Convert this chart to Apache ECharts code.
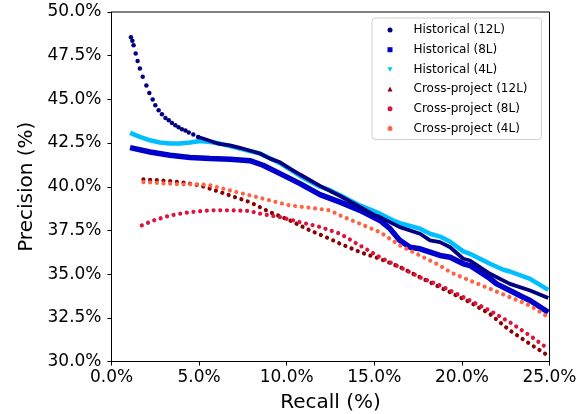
<!DOCTYPE html>
<html><head><meta charset="utf-8">
<script src="https://cdn.jsdelivr.net/npm/echarts@6/dist/echarts.min.js"></script>
<style>html,body{margin:0;padding:0;background:#fff}#c{width:585px;height:414px}</style>
</head><body><div id="c"></div>
<script>
// Historical (12L) - sparse early points
const h12EarlyRecall = [1.11,1.19,1.26,1.38,1.49,1.62,1.78,1.99,2.16,2.35,2.50,2.69,2.88,3.08,3.27,3.45,3.64,3.83,4.02,4.22,4.41,4.67,4.94];
const h12EarlyPrec   = [48.55,48.35,48.10,47.63,47.20,46.77,46.29,45.80,45.37,44.99,44.67,44.38,44.15,43.94,43.81,43.65,43.52,43.41,43.29,43.22,43.10,42.99,42.85];
// Historical (12L) - dense part
const h12Recall = [4.94,5.22,6.15,6.76,7.33,8.47,9.05,9.62,10.19,10.76,11.90,13.05,14.18,15.04,15.32,16.46,17.61,18.18,18.75,19.33,20.08,20.46,21.60,22.74,23.89,24.93];
const h12Prec   = [42.85,42.76,42.45,42.37,42.23,41.90,41.61,41.40,41.04,40.70,40.05,39.47,38.84,38.36,38.26,37.69,37.31,36.93,36.83,36.54,35.88,35.78,35.02,34.44,34.06,33.64];
// Historical (8L)
const h8Recall = [1.06,2.20,3.34,4.48,5.63,6.77,7.90,8.65,9.62,10.76,11.90,13.05,14.18,15.32,15.90,16.46,17.04,17.61,18.18,18.75,19.33,20.08,20.46,21.60,21.98,22.74,23.50,23.89,24.93];
const h8Prec   = [42.24,41.99,41.80,41.68,41.61,41.57,41.49,41.23,40.75,40.18,39.55,39.12,38.65,38.07,37.60,36.93,36.54,36.45,36.26,36.07,35.97,35.59,35.49,34.75,34.44,34.06,33.68,33.49,32.82];
// Historical (4L)
const h4Recall = [1.06,1.62,2.20,2.76,3.34,3.91,4.48,5.05,5.63,6.19,7.33,8.47,9.62,10.76,11.90,12.47,13.05,14.18,15.32,16.09,16.46,17.61,18.18,18.75,19.33,20.08,20.46,21.60,22.37,22.74,23.89,24.93];
const h4Prec   = [43.08,42.85,42.66,42.53,42.47,42.47,42.53,42.62,42.56,42.47,42.18,41.90,41.35,40.62,40.00,39.80,39.51,38.93,38.46,38.07,37.92,37.60,37.31,37.15,36.85,36.30,36.16,35.59,35.25,35.15,34.73,34.10];
// Cross-project (12L)
const c12Recall = [1.82,2.76,3.91,5.05,5.63,6.77,7.90,9.04,10.19,11.33,12.47,13.05,14.18,15.32,16.46,17.61,18.75,19.33,20.46,21.60,22.74,23.89,24.93];
const c12Prec   = [40.42,40.37,40.27,40.08,39.89,39.50,39.12,38.55,38.07,37.50,37.02,36.74,36.26,35.88,35.40,34.82,34.25,33.96,33.39,32.72,31.77,31.00,30.33];
// Cross-project (8L)
const c8Recall = [1.73,2.39,3.34,4.48,5.63,6.77,7.90,8.47,9.62,10.76,11.90,13.05,14.18,15.32,16.46,17.61,18.75,19.33,20.46,21.60,22.74,23.89,24.93];
const c8Prec   = [37.79,38.07,38.36,38.55,38.65,38.65,38.61,38.46,38.26,37.98,37.70,37.31,36.64,35.97,35.40,34.82,34.35,34.06,33.49,32.91,32.24,31.48,30.72];
// Cross-project (4L)
const c4Recall = [1.82,2.76,3.91,5.05,5.63,6.77,7.90,9.04,10.19,11.33,12.47,13.05,14.18,15.32,16.46,17.61,18.75,19.33,20.46,21.60,22.74,23.89,24.93];
const c4Prec   = [40.27,40.21,40.14,40.14,40.08,39.79,39.51,39.22,38.93,38.80,38.65,38.36,37.88,37.40,36.64,36.07,35.49,35.11,34.63,34.16,33.68,33.20,32.53];

const seriesNames = ['Historical (12L)','Historical (8L)','Historical (4L)','Cross-project (12L)','Cross-project (8L)','Cross-project (4L)'];
const colors = ['#000080','#0000CD','#00BFFF','#8B0000','#DC143C','#FF6347'];
const icons = ['circle','rect','path://M0,0L10,0L5,9Z','triangle','circle','circle'];

function pairs(xs, ys){ return xs.map((x,i)=>[x, ys[i]]); }

const chart = echarts.init(document.getElementById('c'), null, {renderer:'canvas'});
const FONT = 'DejaVu Sans';
const dotted = (c) => ({color:c, width:4.2, type:[0.01,6.7], cap:'round'});

chart.setOption({
  animation:false,
  backgroundColor:'#fff',
  grid:{left:111.5, right:35.5, top:12, bottom:52.5, containLabel:false, outerBoundsMode:'none',
        show:true, borderColor:'#000', borderWidth:1, backgroundColor:'transparent'},
  xAxis:{
    type:'value', min:0, max:25, interval:5,
    name:'Recall (%)', nameLocation:'middle', nameGap:31,
    nameTextStyle:{fontFamily:FONT, fontSize:20, color:'#000'},
    axisLine:{show:true, lineStyle:{color:'#000', width:1}},
    axisTick:{show:true, length:4, lineStyle:{color:'#000'}},
    axisLabel:{fontFamily:FONT, fontSize:17, color:'#000', margin:8, formatter:v=>v.toFixed(1)+'%'},
    splitLine:{show:false}
  },
  yAxis:{
    type:'value', min:30, max:50, interval:2.5,
    name:'Precision (%)', nameLocation:'middle', nameGap:73.5,
    nameTextStyle:{fontFamily:FONT, fontSize:20, color:'#000'},
    axisLine:{show:true, lineStyle:{color:'#000', width:1}},
    axisTick:{show:true, length:4, lineStyle:{color:'#000'}},
    axisLabel:{fontFamily:FONT, fontSize:17, color:'#000', margin:10, formatter:v=>v.toFixed(1)+'%'},
    splitLine:{show:false}
  },
  legend:{
    orient:'vertical', left:372, top:18,
    data: seriesNames.map((n,i)=>({name:n, icon:icons[i]})),
    itemWidth:5, itemHeight:5, itemGap:5.7,
    padding:[5,14,4,15.5],
    backgroundColor:'rgba(255,255,255,0.85)', borderColor:'#d0d0d0', borderWidth:1, borderRadius:3,
    textStyle:{fontFamily:FONT, fontSize:12, color:'#000', lineHeight:14, padding:[0,0,0,16]}
  },
  series:[
    {name:seriesNames[0], type:'scatter', data:pairs(h12EarlyRecall,h12EarlyPrec), symbol:'circle', symbolSize:4.5, itemStyle:{color:colors[0], opacity:1}, z:5},
    {name:seriesNames[0], type:'line', data:pairs(h12Recall,h12Prec), symbol:'none', lineStyle:{color:colors[0], width:3.8}, itemStyle:{color:colors[0]}, z:4},
    {name:seriesNames[1], type:'line', data:pairs(h8Recall,h8Prec), symbol:'none', lineStyle:{color:colors[1], width:5.5}, itemStyle:{color:colors[1]}, z:3},
    {name:seriesNames[2], type:'line', data:pairs(h4Recall,h4Prec), symbol:'none', lineStyle:{color:colors[2], width:4.5}, itemStyle:{color:colors[2]}, z:3},
    {name:seriesNames[3], type:'line', data:pairs(c12Recall,c12Prec), symbol:'none', lineStyle:dotted(colors[3]), itemStyle:{color:colors[3]}, z:3},
    {name:seriesNames[4], type:'line', data:pairs(c8Recall,c8Prec), symbol:'none', lineStyle:dotted(colors[4]), itemStyle:{color:colors[4]}, z:3},
    {name:seriesNames[5], type:'line', data:pairs(c4Recall,c4Prec), symbol:'none', lineStyle:dotted(colors[5]), itemStyle:{color:colors[5]}, z:3}
  ]
});
</script></body></html>
